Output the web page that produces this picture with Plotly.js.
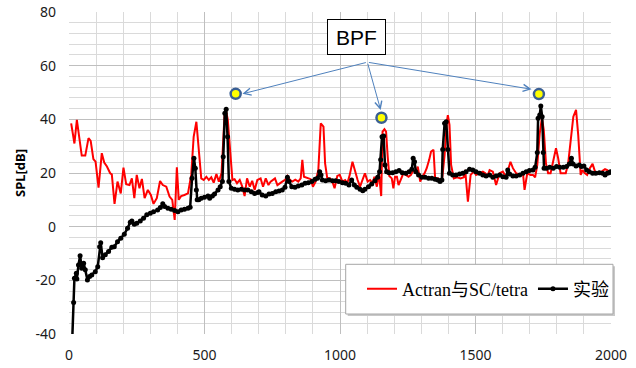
<!DOCTYPE html>
<html>
<head>
<meta charset="utf-8">
<script src="https://cdn.plot.ly/plotly-3.0.1.min.js"></script>
<style>html,body{margin:0;padding:0;background:#fff;}#chart{width:636px;height:368px;}</style>
</head>
<body>
<div id="chart"></div>
<script>
// Actran与SC/tetra (red)
var redX = [8,20,29,41,47,60,72,80,90,98,109,121,130,140,152,158,168,179,191,201,211,223,232,241,250,260,269,279,291,302,312,324,336,346,359,371,381,390,398,405,414,426,439,451,460,470,479,488,497,507,516,525,534,544,553,563,574,580,586,595,603,611,620,630,639,648,657,667,676,685,695,707,716,726,736,744,753,760,769,777,787,797,806,815,824,835,846,855,861,867,880,892,900,910,920,929,939,945,953,963,972,980,990,999,1009,1019,1027,1036,1046,1055,1065,1074,1084,1092,1102,1111,1120,1127,1136,1144,1152,1157,1164,1170,1176,1182,1191,1197,1203,1210,1216,1225,1234,1243,1253,1262,1271,1280,1287,1296,1302,1312,1320,1329,1336,1345,1351,1361,1369,1377,1386,1394,1398,1404,1410,1420,1432,1445,1457,1462,1472,1482,1494,1502,1515,1527,1536,1543,1552,1564,1576,1589,1601,1613,1629,1638,1650,1663,1675,1681,1691,1703,1712,1720,1728,1737,1745,1752,1760,1768,1777,1787,1797,1805,1814,1824,1833,1842,1851,1861,1871,1879,1888,1895,1903,1912,1922,1932,1941,1953,1965,1978,1986,1993];
var redY = [38.5,31,39.8,31,26.5,26.5,33,32,25.2,24.2,14.5,27.4,23.9,22.4,19.9,19.5,8.5,16.8,12.4,22,15.8,15.5,18,10.6,19.3,14.3,17.8,10.6,13.7,11.8,8.5,10.6,17,15.5,14.9,11.2,10,2.5,22.1,10,11.4,11.8,12.4,19.3,33.5,39.1,29.8,18,17.4,18.6,17.4,18.4,16.4,19.6,16.8,20,41.6,42.9,39.8,26.1,17.4,17.7,16.2,17.4,15,11.4,18,14.9,17.1,13.7,17.4,18,14.9,18,15.5,16.8,17.4,18,15.5,16.2,16.8,17.4,18.9,17.5,16.8,17.5,16.8,18,24.9,18.6,18,17.7,14.9,16.8,21.1,38.5,37.3,23.6,18,18,16.8,14.3,18.9,19.3,16.8,17.4,16.2,19.3,24.2,20.5,17.4,14.9,18,19.9,16.8,17.4,16.2,18.6,14.9,19.9,11.4,35.4,36.3,35.4,26.1,18.9,18,14.3,18.6,18.6,15.5,18,19.9,19.3,18.6,19.3,21.1,19.9,22.4,16.8,18.4,19.9,21.8,24.9,28,28.6,18,18,17.4,17.8,26.7,39.1,41.6,37.9,23,18,18.4,18,18.4,21.1,9.3,19.3,20.5,19.3,19.9,20.5,19.9,18.6,21.1,20.5,15.5,19.9,20.5,18.6,24.2,21.8,19.9,19.3,20.1,13.7,19.9,19.3,19.3,18.4,23,34.8,40.5,36,23.6,19.9,19.9,24.2,29.2,25.5,19.9,19.9,19.9,23.6,32.3,41,43.5,34.2,19.3,21.1,20,19.3,21.8,23.4,20.5,19.9,20.5,21.4,21.1,20.5];

// 实验 (black)
var expX = [12,17,20,27,29,35,41,47,54,60,68,76,84,97,106,113,117,124,134,146,158,167,179,191,204,216,226,232,241,250,263,275,287,300,312,327,337,346,353,365,377,390,402,414,426,439,447,454,461,466,470,473,479,488,500,513,519,529,537,550,558,566,569,575,580,585,590,599,611,623,636,648,660,673,685,697,701,713,726,738,750,763,775,787,797,806,812,822,834,846,859,871,883,896,908,917,925,930,935,947,959,972,984,996,1009,1021,1033,1043,1053,1062,1074,1084,1092,1105,1117,1129,1139,1146,1150,1155,1161,1166,1172,1181,1194,1206,1218,1230,1243,1255,1265,1270,1275,1280,1290,1302,1314,1327,1339,1351,1361,1369,1376,1379,1386,1392,1398,1404,1416,1428,1441,1453,1465,1478,1490,1502,1515,1527,1539,1552,1564,1576,1589,1601,1613,1619,1626,1638,1650,1663,1675,1687,1699,1712,1720,1728,1731,1737,1741,1746,1750,1753,1762,1774,1787,1799,1811,1824,1836,1846,1854,1860,1871,1883,1891,1900,1910,1920,1932,1944,1957,1969,1978,1986,1993,1998];
var expY = [-42,-28.3,-19.2,-17.4,-19.5,-14.3,-10.8,-15.5,-13.6,-16.1,-19.9,-18.6,-18,-16.8,-14.9,-7.5,-6,-11.6,-10.5,-9.3,-7.7,-7.5,-5.6,-4.3,-2.8,-0.6,1.6,2.1,0.9,1.3,2.1,3.1,4.4,5,5.6,6.2,7.1,8.5,7.5,6.9,6.5,6,5.6,6.2,6.5,6.9,7.2,18,25.5,21.8,13.7,10,10,10.6,11,11.4,10.6,11.4,12.2,13.7,14.9,16.8,26.1,42.3,43.8,33.5,16.8,14.3,13.9,13.7,13.9,13.7,13.7,13,12.4,12.7,13,11.8,11.4,12.2,12.4,13,13.3,13.7,14.7,18.4,16.8,14.9,14.7,15.2,15.5,16.2,16.4,16.8,17.7,18,20.5,19.3,17.4,17.1,17.4,17.1,17.1,16.8,16.4,16.2,15.5,17.4,15.5,14.7,13.9,13.4,13.9,14.9,15.9,17.1,18.4,20.5,24.9,33.5,33.8,23,20.5,20.1,20.1,20.5,20.9,20.1,19.9,20.5,21.4,25.5,24.2,20.5,19.3,18.4,18.4,18,18,17.7,17.4,16.8,17.4,28.8,38.5,39.1,28.8,19.9,19.3,19.3,19.6,19.9,20.5,21.4,21.1,20.5,19.9,19.3,18.9,19.3,18.4,18.9,19.3,18.6,18.4,21.1,19.6,18.9,18.9,19.3,19.9,20.5,20.9,21.1,22.1,27.6,40.4,41.6,45,41,27.6,21.8,21.8,22.1,21.8,22.4,22.1,22.1,22.4,23.4,25.5,23.4,22.6,23,22.4,22.6,21.1,20.5,19.9,19.9,20.1,19.9,19.3,19.9,20.1,20.5];

// BPF markers and arrow targets
var bpfX = [615, 1153, 1734];
var bpfY = [49.5, 40.6, 49.4];
var arrowHeadX = [640, 1150, 1707];
var arrowHeadY = [49.5, 43.5, 51.2];
var arrowTail = [1101, 61.3];

var seriesNames = ['Actran与SC/tetra', '实验'];
var xTicks = [0, 500, 1000, 1500, 2000];
var yTicks = [-40, -20, 0, 20, 40, 60, 80];

var traces = [
  {x: redX, y: redY, name: seriesNames[0], type: 'scatter', mode: 'lines',
   line: {color: '#ff0000', width: 2}},
  {x: expX, y: expY, name: seriesNames[1], type: 'scatter', mode: 'lines+markers',
   line: {color: '#000000', width: 2.5}, marker: {color: '#000000', size: 5}},
  {x: bpfX, y: bpfY, type: 'scatter', mode: 'markers', showlegend: false,
   marker: {color: '#ffff00', size: 10, line: {color: '#3a5f94', width: 2.5}}}
];

function px2x(p){ return (p - 69) / 542; }
function py2y(p){ return 1 - (p - 12) / 322; }

var annotations = [
  {xref: 'paper', yref: 'paper', x: px2x(20), y: 0.5, text: '<b>SPL[dB]</b>', showarrow: false,
   textangle: -90, xanchor: 'center', yanchor: 'middle',
   font: {family: 'Noto Sans, Liberation Sans, sans-serif', size: 13, color: '#000'}},
  {xref: 'paper', yref: 'paper', x: px2x(356.7), y: py2y(37.2), text: 'BPF', showarrow: false,
   xanchor: 'center', yanchor: 'middle', width: 57, height: 34, borderpad: 0,
   bgcolor: '#ffffff', bordercolor: '#000000', borderwidth: 1,
   font: {family: 'Liberation Sans, Arial, sans-serif', size: 21, color: '#000'}}
];
for (var i = 0; i < arrowHeadX.length; i++) {
  annotations.push({x: arrowHeadX[i], y: arrowHeadY[i], xref: 'x', yref: 'y',
    ax: arrowTail[0], ay: arrowTail[1], axref: 'x', ayref: 'y', text: '',
    showarrow: true, arrowhead: 5, arrowsize: 1.4, arrowwidth: 1, arrowcolor: '#4f81bd'});
}

var shapes = [
  {type: 'rect', xref: 'paper', yref: 'paper', layer: 'above',
   x0: px2x(347.7), x1: px2x(615), y0: py2y(266.3), y1: py2y(316),
   fillcolor: '#c8c8c8', line: {width: 0}},
  {type: 'rect', xref: 'paper', yref: 'paper', layer: 'above',
   x0: px2x(345.7), x1: px2x(613), y0: py2y(264.3), y1: py2y(314),
   fillcolor: '#ffffff', line: {color: '#a6a6a6', width: 1}}
];

var layout = {
  width: 636, height: 368,
  margin: {l: 69, r: 25, t: 12, b: 34, pad: 0},
  paper_bgcolor: '#ffffff', plot_bgcolor: '#ffffff',
  showlegend: true,
  legend: {orientation: 'h', x: px2x(362), xanchor: 'left', y: py2y(289), yanchor: 'middle',
    bgcolor: 'rgba(0,0,0,0)', borderwidth: 0,
    font: {family: 'Liberation Serif, "Noto Sans CJK SC", serif', size: 18, color: '#000'}},
  xaxis: {range: [0, 2000], tickvals: xTicks, ticktext: xTicks.map(String),
    showgrid: true, gridcolor: '#bfbfbf', gridwidth: 1, zeroline: false, showline: false,
    ticks: '', ticklabelstandoff: 11,
    minor: {dtick: 100, showgrid: true, gridcolor: '#dadada', gridwidth: 1},
    tickfont: {family: 'Noto Sans, sans-serif', size: 14, color: '#1a1a1a'}},
  yaxis: {range: [-40, 80], tickvals: yTicks, ticktext: yTicks.map(String),
    showgrid: true, gridcolor: '#bfbfbf', gridwidth: 1, zeroline: false, showline: false,
    ticks: '', ticklabelstandoff: 12,
    minor: {dtick: 4, showgrid: true, gridcolor: '#dadada', gridwidth: 1},
    tickfont: {family: 'Noto Sans, sans-serif', size: 14, color: '#1a1a1a'}},
  annotations: annotations,
  shapes: shapes
};

Plotly.newPlot('chart', traces, layout, {displayModeBar: false, staticPlot: true});
</script>
</body>
</html>
